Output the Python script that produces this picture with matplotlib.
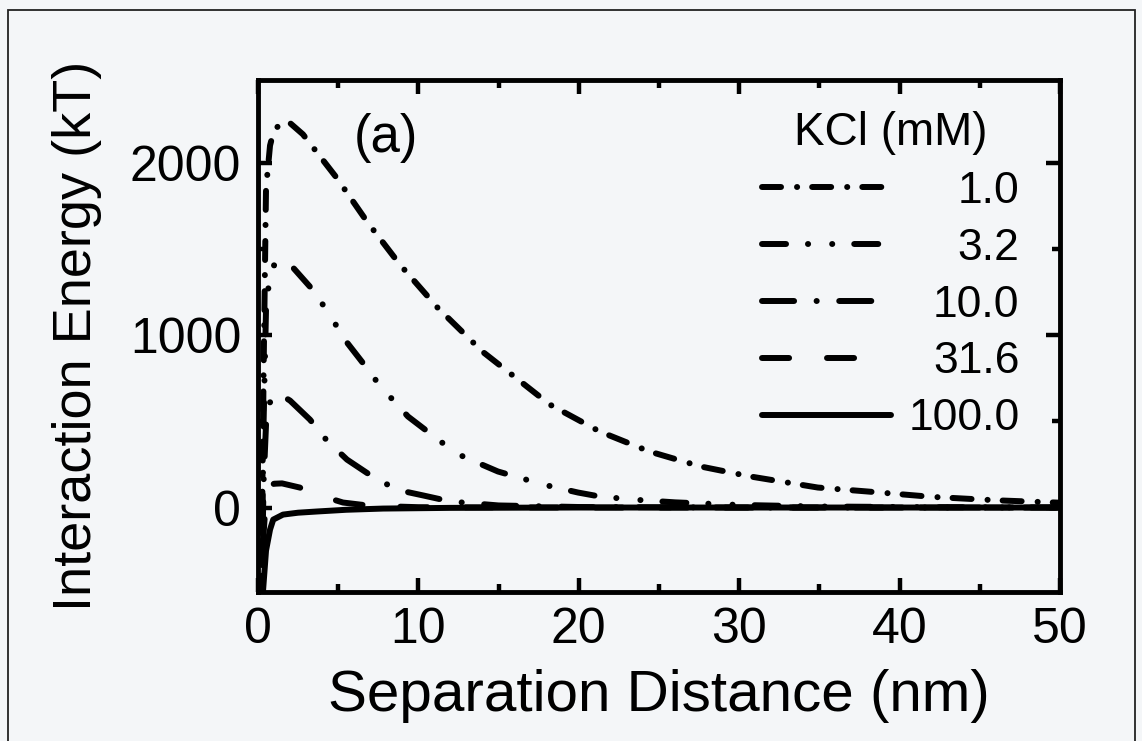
import matplotlib
matplotlib.use('Agg')
import matplotlib.pyplot as plt
from matplotlib.ticker import MultipleLocator
from matplotlib.patches import Rectangle

plt.rcParams['font.family'] = ['Liberation Sans', 'DejaVu Sans']
plt.rcParams['lines.scale_dashes'] = False

# values
kcl_labels = ['1.0', '3.2', '10.0', '31.6', '100.0']

x_1p0 = [0.2, 0.35, 0.5, 0.75, 1.0, 1.5, 2.0, 2.8, 4.9, 6.8, 8.85, 11.2, 14.0,
         18.2, 21.3, 24.4, 27.6, 30.7, 34.9, 38.0, 42.0, 46.0, 50.0]
e_1p0 = [-600, 800, 1850, 2100, 2190, 2232, 2230, 2165, 1913, 1658, 1409, 1159, 904,
         597, 441, 325, 238, 180, 116, 93, 62, 42, 28]

x_3p2 = [0.2, 0.35, 0.5, 0.75, 1.0, 1.6, 2.2, 3.24, 4.18, 5.55, 6.67, 7.6, 9.35,
         11.47, 12.78, 14.96, 17.8, 19.95, 21.3, 23.4, 26.0, 30.0, 35.0, 42.0, 50.0]
e_3p2 = [-600, 500, 1150, 1360, 1405, 1422, 1390, 1281, 1159, 957, 823, 707, 528,
         377, 296, 209, 133, 87, 64, 46, 30, 15, 6, 2, 0]

x_10 = [0.2, 0.35, 0.5, 0.75, 1.0, 1.4, 2.0, 3.24, 4.3, 5.55, 7.42, 8.85, 10.3,
        12.0, 15.0, 20.0, 30.0, 50.0]
e_10 = [-600, 150, 480, 610, 645, 655, 620, 510, 388, 278, 162, 99, 70,
        35, 12, 3, 0, 0]

x_31p6 = [0.2, 0.35, 0.5, 0.75, 1.0, 1.5, 2.6, 3.68, 5.3, 7.0, 10.0, 20.0, 50.0]
e_31p6 = [-600, -150, 60, 125, 138, 140, 116, 75, 29, 10, 2, 0, 0]

x_100 = [0.2, 0.3, 0.5, 0.75, 0.95, 1.56, 2.5, 3.68, 5.5, 7.8, 12.0, 20.0, 50.0]
e_100 = [-900, -500, -250, -128, -70, -41, -30, -23, -13, -6, -2, 0, 0]

xs = [x_1p0, x_3p2, x_10, x_31p6, x_100]
es = [e_1p0, e_3p2, e_10, e_31p6, e_100]
# dash patterns in points (round caps add the line width to every dash)
styles = [(0, (13.7, 11.5, 0.1, 10.8)),
          (0, (17.3, 15.8, 0.1, 17.3, 0.1, 15.8)),
          (0, (23.1, 16.2, 0.1, 16.2)),
          (0, (19.5, 27.3)),
          '-']

bg = '#f4f6f8'
W, H = 1142, 741
fig = plt.figure(figsize=(W / 100, H / 100), dpi=100, facecolor=bg)
ax = fig.add_axes([258 / W, 1 - 592 / H, (1060 - 258) / W, (592 - 80) / H])
ax.set_facecolor(bg)

for x, e, ls, lab in zip(xs, es, styles, kcl_labels):
    ax.plot(x, e, color='black', lw=4.3, linestyle=ls, dash_capstyle='round',
            solid_capstyle='round', label=lab)

ax.set_xlim(0, 50)
ax.set_ylim(-490, 2480)
ax.set_xticks([0, 10, 20, 30, 40, 50])
ax.set_yticks([0, 1000, 2000])
ax.xaxis.set_minor_locator(MultipleLocator(5))
ax.yaxis.set_minor_locator(MultipleLocator(500))
ax.tick_params(which='both', direction='in', top=True, right=True, width=3.2,
               labelsize=36)
ax.tick_params(which='major', length=10)
ax.tick_params(which='minor', length=6)
ax.tick_params(axis='x', pad=11)
ax.tick_params(axis='y', pad=12)
for sp in ax.spines.values():
    sp.set_linewidth(3.5)

ax.set_xlabel('Separation Distance (nm)', fontsize=42, labelpad=11)
ax.set_ylabel('Interaction Energy (kT)', fontsize=39, labelpad=20)

ax.text(0.16, 0.886, '(a)', transform=ax.transAxes, fontsize=38,
        ha='center', va='center')

leg = ax.legend(loc='upper left', bbox_to_anchor=(0.628, 0.939), frameon=False,
                fontsize=32, title='KCl (mM)', title_fontsize=33,
                handlelength=2.9, handletextpad=0.4, labelspacing=0.355,
                borderpad=0, borderaxespad=0)

# right-align the legend labels
fig.canvas.draw()
rend = fig.canvas.get_renderer()
widths = [t.get_window_extent(rend).width for t in leg.get_texts()]
wmax = max(widths)
for t, w in zip(leg.get_texts(), widths):
    t.set_position((wmax - w, 0))

fig.add_artist(Rectangle((8 / W, -0.02), (1135 - 8) / W, (H - 10) / H + 0.02,
                         transform=fig.transFigure, fill=False, lw=1.3,
                         edgecolor='#222222'))

fig.savefig('out.png', dpi=100, facecolor=bg)
